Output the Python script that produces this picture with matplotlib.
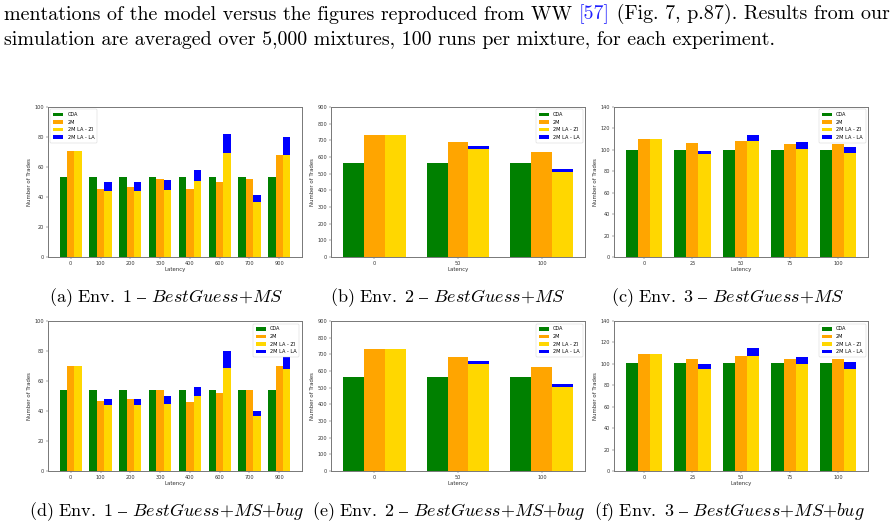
import matplotlib.pyplot as plt
import numpy as np

plt.rcParams['mathtext.fontset'] = 'cm'

# etiquetas de latencia por entorno
lat_env1 = ['0', '100', '200', '300', '400', '600', '700', '900']
lat_env2 = ['0', '50', '100']
lat_env3 = ['0', '25', '50', '75', '100']

# Env. 1 - BestGuess+MS
env1_cda = [53.5, 53.5, 53.5, 53.5, 53.5, 53.5, 53.5, 53.5]
env1_2m = [70.6, 45.0, 46.5, 51.7, 45.0, 50.1, 52.1, 68.2]
env1_zi = [70.6, 44.1, 43.7, 45.0, 50.8, 69.3, 37.0, 67.7]
env1_la = [0.0, 6.0, 6.0, 6.2, 7.1, 12.4, 4.2, 12.0]

# Env. 2 - BestGuess+MS
env2_cda = [563, 563, 563]
env2_2m = [729, 687, 629]
env2_zi = [729, 645, 511]
env2_la = [0, 20, 18]

# Env. 3 - BestGuess+MS
env3_cda = [100.1, 100.1, 100.1, 100.1, 100.1]
env3_2m = [110.4, 106.3, 107.9, 105.4, 105.4]
env3_zi = [110.4, 96.0, 108.2, 100.7, 96.7]
env3_la = [0.0, 2.5, 5.6, 6.3, 6.2]

# Env. 1 - BestGuess+MS+bug
env1b_cda = [53.7, 53.7, 53.7, 53.7, 53.7, 53.7, 53.7, 53.7]
env1b_2m = [69.9, 46.5, 48.1, 53.7, 46.3, 52.3, 54.3, 69.7]
env1b_zi = [69.9, 43.9, 43.7, 45.0, 50.3, 69.0, 36.7, 67.7]
env1b_la = [0.0, 4.2, 4.4, 4.7, 5.4, 10.7, 3.1, 10.0]

# Env. 2 - BestGuess+MS+bug
env2b_cda = [564, 564, 564]
env2b_2m = [730, 684, 626]
env2b_zi = [730, 642, 506]
env2b_la = [0, 18, 16]

# Env. 3 - BestGuess+MS+bug
env3b_cda = [100.5, 100.5, 100.5, 100.5, 100.5]
env3b_2m = [109.5, 104.9, 107.0, 104.5, 104.5]
env3b_zi = [109.5, 95.2, 107.3, 99.9, 95.2]
env3b_la = [0.0, 5.0, 7.2, 6.5, 6.5]


def dibujar_panel(ax, etiquetas, cda, m2, zi, la, ymax, paso, loc):
    x = np.arange(len(etiquetas))
    w = 0.25
    ax.bar(x - w, cda, w, color='green', label='CDA')
    ax.bar(x, m2, w, color='orange', label='2M')
    ax.bar(x + w, zi, w, color='gold', label='2M LA - ZI')
    ax.bar(x + w, la, w, bottom=zi, color='blue', label='2M LA - LA')
    ax.set_ylim(0, ymax)
    ax.set_yticks(np.arange(0, ymax + 1, paso))
    ax.set_xticks(x)
    ax.set_xticklabels(etiquetas)
    ax.tick_params(labelsize=3.6, length=1.3, width=0.3, pad=1.5, colors='#333333')
    for s in ax.spines.values():
        s.set_linewidth(0.7)
        s.set_color('#777777')
    ax.set_xlabel('Latency', fontsize=3.9, labelpad=1, color='#333333')
    ax.set_ylabel('Number of Trades', fontsize=3.9, labelpad=2, color='#333333')
    leg = ax.legend(loc=loc, fontsize=3.6, framealpha=1, borderpad=0.6)
    leg.get_frame().set_linewidth(0.3)


fig = plt.figure(figsize=(8.95, 5.29), dpi=100)
W, H = 895, 529

paneles = [
    (48, 107, lat_env1, env1_cda, env1_2m, env1_zi, env1_la, 100, 20, 'upper left'),
    (331, 107, lat_env2, env2_cda, env2_2m, env2_zi, env2_la, 900, 100, 'upper right'),
    (614, 107, lat_env3, env3_cda, env3_2m, env3_zi, env3_la, 140, 20, 'upper right'),
    (48, 321, lat_env1, env1b_cda, env1b_2m, env1b_zi, env1b_la, 100, 20, 'upper right'),
    (331, 321, lat_env2, env2b_cda, env2b_2m, env2b_zi, env2b_la, 900, 100, 'upper right'),
    (614, 321, lat_env3, env3b_cda, env3b_2m, env3b_zi, env3b_la, 140, 20, 'upper right'),
]
for (px, py, etiq, cda, m2, zi, la, ymax, paso, loc) in paneles:
    ax = fig.add_axes([px / W, 1 - (py + 150) / H, 254 / W, 150 / H])
    dibujar_panel(ax, etiq, cda, m2, zi, la, ymax, paso, loc)

# subtitulos
subtitulos = [
    (166, 298, r'$\mathrm{(a)\ Env.\ 1\ –\ }\mathit{BestGuess{+}MS}$'),
    (448, 298, r'$\mathrm{(b)\ Env.\ 2\ –\ }\mathit{BestGuess{+}MS}$'),
    (728, 298, r'$\mathrm{(c)\ Env.\ 3\ –\ }\mathit{BestGuess{+}MS}$'),
    (167, 512, r'$\mathrm{(d)\ Env.\ 1\ –\ }\mathit{BestGuess{+}MS{+}bug}$'),
    (449, 512, r'$\mathrm{(e)\ Env.\ 2\ –\ }\mathit{BestGuess{+}MS{+}bug}$'),
    (729, 512, r'$\mathrm{(f)\ Env.\ 3\ –\ }\mathit{BestGuess{+}MS{+}bug}$'),
]
for cx, cy, txt in subtitulos:
    fig.text(cx / W, 1 - cy / H, txt, ha='center', va='center', fontsize=13)

# texto del parrafo superior
capa = fig.add_axes([0, 0, 1, 1])
capa.axis('off')
fs = 14.4
t1 = capa.text(4 / W, 1 - 20 / H, 'mentations of the model versus the figures reproduced from WW ',
               family='cmr10', fontsize=fs, va='baseline')
t2 = capa.annotate('[57]', xy=(1, 0), xycoords=t1, va='bottom', family='cmr10',
                   fontsize=fs, color='#2020ff')
capa.annotate(' (Fig. 7, p.87). Results from our', xy=(1, 0), xycoords=t2, va='bottom',
              family='cmr10', fontsize=fs)
capa.text(4 / W, 1 - 45 / H,
          'simulation are averaged over 5,000 mixtures, 100 runs per mixture, for each experiment.',
          family='cmr10', fontsize=fs, va='baseline')

fig.savefig('out.png', dpi=100)
